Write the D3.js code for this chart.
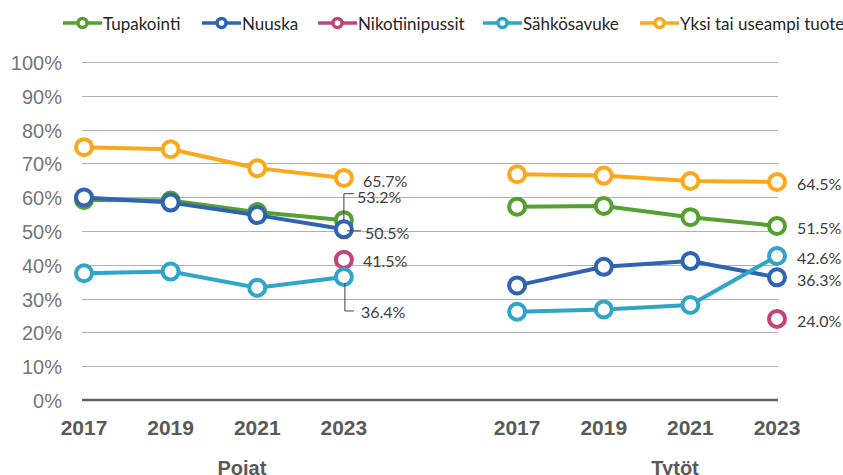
<!DOCTYPE html>
<html>
<head>
<meta charset="utf-8">
<script src="https://cdn.jsdelivr.net/npm/d3@7"></script>
<style>
  body { margin: 0; background: #fff; }
  svg { display: block; }
</style>
</head>
<body>
<svg id="chart" width="843" height="475"></svg>
<script>
// data (percent)
const years = ["2017", "2019", "2021", "2023"]
const groups = ["Pojat", "Tytöt"]
const yTicks = [0, 10, 20, 30, 40, 50, 60, 70, 80, 90, 100]

const seriesNames = ["Tupakointi", "Nuuska", "Nikotiinipussit", "Sähkösavuke", "Yksi tai useampi tuote"]
const seriesColors = ["#55a032", "#2f64b3", "#c4437a", "#2fa5c9", "#fba81c"]

const pojatTupakointi = [59.2, 59.0, 55.6, 53.2]
const pojatNuuska = [59.9, 58.4, 54.7, 50.5]
const pojatNikotiinipussit = [null, null, null, 41.5]
const pojatSahkosavuke = [37.5, 38.0, 33.2, 36.4]
const pojatYksi = [74.8, 74.2, 68.6, 65.7]

const tytotTupakointi = [57.2, 57.4, 54.1, 51.5]
const tytotNuuska = [33.9, 39.4, 41.1, 36.3]
const tytotNikotiinipussit = [null, null, null, 24.0]
const tytotSahkosavuke = [26.1, 26.8, 28.1, 42.6]
const tytotYksi = [66.8, 66.4, 64.8, 64.5]

const groupData = {
  "Pojat": [pojatTupakointi, pojatNuuska, pojatNikotiinipussit, pojatSahkosavuke, pojatYksi],
  "Tytöt": [tytotTupakointi, tytotNuuska, tytotNikotiinipussit, tytotSahkosavuke, tytotYksi]
}

// label tweaks for last points (offset from point, leader lines)
const labelPos = {
  "Pojat": [
    { dx: 13, dy: -24, leader: "up" },
    { dx: 21, dy: 3, leader: "right" },
    { dx: 19, dy: 1 },
    { dx: 17, dy: 35, leader: "down" },
    { dx: 19, dy: 3 }
  ],
  "Tytöt": [
    { dx: 20, dy: 2 }, { dx: 20, dy: 2 }, { dx: 20, dy: 2 }, { dx: 20, dy: 1 }, { dx: 20, dy: 2 }
  ]
}

const svg = d3.select("#chart")

// one empty slot between the two groups
const keys = []
groups.forEach((g, i) => {
  years.forEach(y => keys.push(g + "|" + y))
  if (i < groups.length - 1) keys.push("gap")
})

const x = d3.scalePoint().domain(keys).range([84, 777])
const y = d3.scaleLinear().domain([0, 100]).range([400, 62])

const labelFont = "Lato, 'Open Sans', sans-serif"
const axisFont = "'Liberation Sans', Arial, sans-serif"

// grid
svg.append("g")
  .selectAll("line")
  .data(yTicks.filter(t => t > 0))
  .join("line")
  .attr("x1", 82).attr("x2", 778)
  .attr("y1", d => Math.round(y(d)) + 0.5)
  .attr("y2", d => Math.round(y(d)) + 0.5)
  .attr("stroke", "#b0b0b0")
  .attr("stroke-width", 1)

svg.append("line")
  .attr("x1", 82).attr("x2", 778)
  .attr("y1", y(0)).attr("y2", y(0))
  .attr("stroke", "#5f5f5f")
  .attr("stroke-width", 2.5)

// y tick labels
svg.append("g")
  .selectAll("text")
  .data(yTicks)
  .join("text")
  .attr("x", 62)
  .attr("y", d => y(d) + 1)
  .attr("text-anchor", "end")
  .attr("dominant-baseline", "central")
  .attr("font-family", axisFont)
  .attr("font-size", 20)
  .attr("fill", "#767676")
  .text(d => d + "%")

// year labels
svg.append("g")
  .selectAll("text")
  .data(keys.filter(k => k !== "gap"))
  .join("text")
  .attr("x", d => x(d))
  .attr("y", 435)
  .attr("text-anchor", "middle")
  .attr("font-family", axisFont)
  .attr("font-weight", "bold")
  .attr("font-size", 21)
  .attr("fill", "#595959")
  .text(d => d.split("|")[1])

// group labels (cut at the bottom like in the original)
svg.append("g")
  .selectAll("text")
  .data(groups)
  .join("text")
  .attr("x", g => (x(g + "|" + years[1]) + x(g + "|" + years[2])) / 2 + 28)
  .attr("y", 475)
  .attr("text-anchor", "middle")
  .attr("font-family", axisFont)
  .attr("font-weight", "bold")
  .attr("font-size", 20)
  .attr("fill", "#595959")
  .text(d => d)

const line = d3.line()
  .defined(d => d.v != null)
  .x(d => x(d.k))
  .y(d => y(d.v))

const plot = svg.append("g")

seriesNames.forEach((name, si) => {
  groups.forEach(g => {
    const pts = groupData[g][si].map((v, i) => ({ k: g + "|" + years[i], v }))
    plot.append("path")
      .datum(pts)
      .attr("d", line)
      .attr("fill", "none")
      .attr("stroke", seriesColors[si])
      .attr("stroke-width", 4)
      .attr("stroke-linejoin", "round")
    plot.selectAll(null)
      .data(pts.filter(d => d.v != null))
      .join("circle")
      .attr("cx", d => x(d.k))
      .attr("cy", d => y(d.v))
      .attr("r", 8)
      .attr("fill", "#fff")
      .attr("stroke", seriesColors[si])
      .attr("stroke-width", 4)
  })
})

// data labels for 2023
const labels = svg.append("g")
groups.forEach(g => {
  groupData[g].forEach((vals, si) => {
    const v = vals[vals.length - 1]
    const px = x(g + "|" + years[years.length - 1])
    const py = y(v)
    const p = labelPos[g][si]
    const tx = px + p.dx, ty = py + p.dy
    if (p.leader === "up") {
      labels.append("path")
        .attr("d", `M${px},${py} V${ty - 2.5} H${tx - 3}`)
        .attr("fill", "none").attr("stroke", "#404040").attr("stroke-width", 1)
    } else if (p.leader === "right") {
      labels.append("path")
        .attr("d", `M${px + 3},${ty - 1.5} H${tx - 4}`)
        .attr("fill", "none").attr("stroke", "#404040").attr("stroke-width", 1)
    } else if (p.leader === "down") {
      labels.append("path")
        .attr("d", `M${px + 1},${py + 6} V${ty - 1} H${tx - 7}`)
        .attr("fill", "none").attr("stroke", "#404040").attr("stroke-width", 1)
    }
    labels.append("text")
      .attr("x", tx)
      .attr("y", ty)
      .attr("dominant-baseline", "central")
      .attr("font-family", labelFont)
      .attr("font-size", 16)
      .attr("fill", "#404040")
      .text(v.toFixed(1) + "%")
  })
})

// legend
const legendX = [63, 202, 318, 483, 640]
const legend = svg.append("g")
  .selectAll("g")
  .data(seriesNames)
  .join("g")
  .attr("transform", (d, i) => `translate(${legendX[i]},23)`)

legend.append("line")
  .attr("x1", 0).attr("x2", 39)
  .attr("stroke", (d, i) => seriesColors[i])
  .attr("stroke-width", 3.5)
legend.append("circle")
  .attr("cx", 19.5)
  .attr("r", 4.5)
  .attr("fill", "#fff")
  .attr("stroke", (d, i) => seriesColors[i])
  .attr("stroke-width", 3.5)
legend.append("text")
  .attr("x", 40)
  .attr("dominant-baseline", "central")
  .attr("font-family", labelFont)
  .attr("font-size", 17)
  .attr("fill", "#262626")
  .text(d => d)
</script>
</body>
</html>
